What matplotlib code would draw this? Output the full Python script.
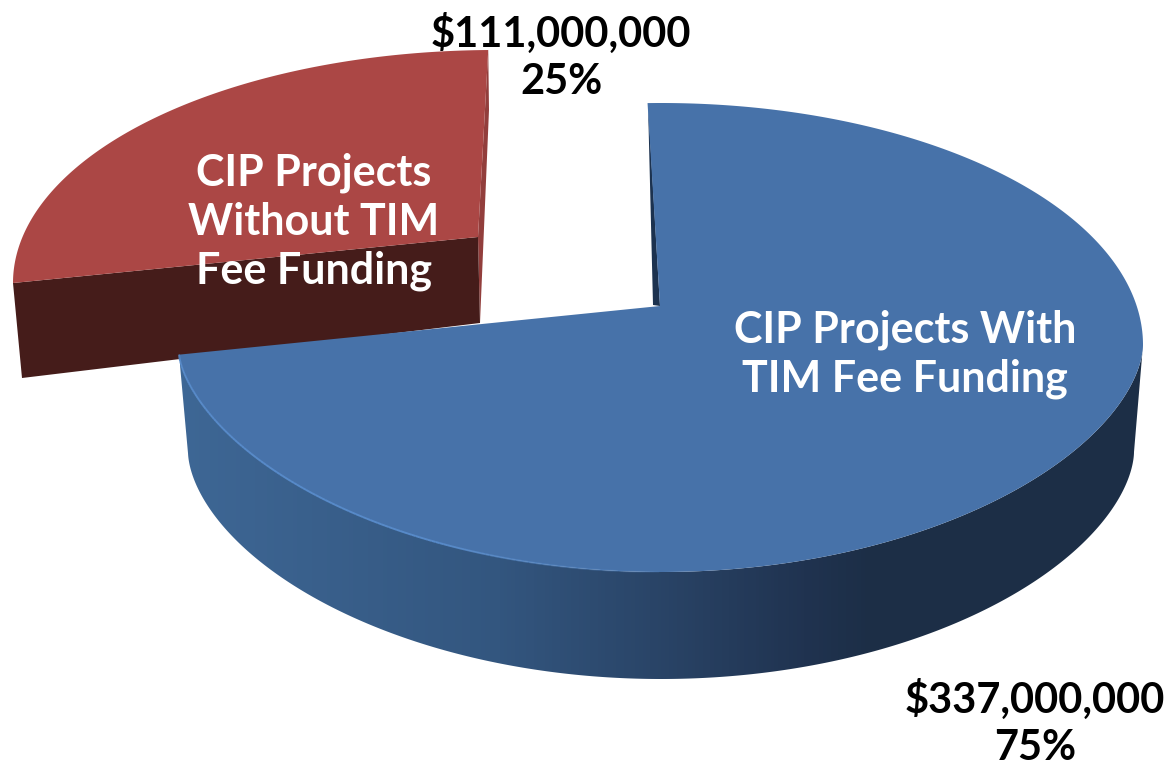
import numpy as np
import matplotlib
matplotlib.use("Agg")
import matplotlib.pyplot as plt
from matplotlib.collections import LineCollection
from matplotlib.colors import LinearSegmentedColormap
from matplotlib.patches import Polygon

# data
slice_names = ["CIP Projects With\nTIM Fee Funding", "CIP Projects\nWithout TIM\nFee Funding"]
amounts = [337000000, 111000000]
amount_labels = ["$337,000,000", "$111,000,000"]
pct_labels = ["75%", "25%"]

plt.rcParams['font.family'] = ['Lato', 'DejaVu Sans']

fig = plt.figure(figsize=(11.69, 7.65), dpi=100)
ax = fig.add_axes([0, 0, 1, 1])

# slice sweeps come from the amounts
sweep = np.array(amounts) / sum(amounts) * 2 * np.pi


def rim(t, cx, cy, rx, ry_up, ry_low):
    c = np.cos(t)
    x = cx + rx * np.sin(t)
    # front half is a bit flatter than a true ellipse
    y = cy - np.where(c > 0, ry_up * c, -ry_low * np.abs(c) ** 1.15)
    return x, y


# red slice, pulled out from the pie
t = np.linspace(np.radians(270), np.radians(270) + sweep[1], 200)
rx, ry = rim(t, 495, 283, 482, 233, 233)
ax.fill(np.r_[rx[-1], 489, 480, 478], np.r_[ry[-1], 110, 323, 237], color="#923e3c", lw=0, zorder=1)
ax.fill([rx[0], 478, 480, 22], [ry[0], 237, 323, 378], color="#451c1a", lw=0, zorder=2)
ax.fill(np.r_[rx, 478], np.r_[ry, 237], color="#ab4745", lw=0, zorder=3)

# blue slice
start = np.radians(-1.6)
end = start + sweep[0]
ax.fill([648, 653, 660], [103, 305, 306], color="#1c324f", lw=0, zorder=3)


def blue_top(t):
    x, y = rim(t, 661, 345, 482, 242, 227)
    # perspective pulls the cut end down a little
    return x, y + 8 * np.exp(-(end - t) / 0.15)


# side wall: horizontal gradient clipped to the wall outline
t = np.linspace(np.radians(90), end, 500)
tx, ty = blue_top(t)
bx, by = rim(t, 661, 452, 473, 242, 227)
side_cmap = LinearSegmentedColormap.from_list("side", [(0, "#3e6795"), (0.33, "#33567f"), (0.49, "#2a4568"), (0.65, "#203350"), (0.72, "#1c2e46"), (1, "#1c2e46")])
wall = Polygon(np.c_[np.r_[tx, bx[::-1]], np.r_[ty, by[::-1]]], transform=ax.transData, fc="none", ec="none")
ax.add_patch(wall)
im = ax.imshow(np.linspace(0, 1, 256).reshape(1, -1), cmap=side_cmap, extent=(180, 1143, 700, 300), aspect="auto", zorder=4)
im.set_clip_path(wall)

t = np.linspace(start, end, 500)
tx, ty = blue_top(t)
ax.fill(np.r_[tx, 660], np.r_[ty, 306], color="#4772a9", lw=0, zorder=5)

# light edge on the front left, fading out towards the middle
keep = (t > np.radians(180)) & (tx < 690)
hx, hy = tx[keep], ty[keep]
segs = [[(hx[i], hy[i]), (hx[i + 1], hy[i + 1])] for i in range(len(hx) - 1)]
fade = np.clip((690 - hx[:-1]) / 250, 0, 1)
ax.add_collection(LineCollection(segs, colors=[(0.34, 0.54, 0.79, a) for a in fade], linewidths=1.4, zorder=6))

# text
ax.text(905, 354, slice_names[0], color="white", fontsize=31, fontweight="bold", ha="center", va="center", linespacing=1.27, zorder=7)
ax.text(314, 222, slice_names[1], color="white", fontsize=31, fontweight="bold", ha="center", va="center", linespacing=1.27, zorder=7)
ax.text(1035, 723, amount_labels[0] + "\n" + pct_labels[0], color="black", fontsize=30, fontweight="bold", ha="center", va="center", linespacing=1.31, zorder=7)
ax.text(561, 57, amount_labels[1] + "\n" + pct_labels[1], color="black", fontsize=30, fontweight="bold", ha="center", va="center", linespacing=1.31, zorder=7)

ax.set_xlim(0, 1169)
ax.set_ylim(765, 0)
ax.axis('off')

plt.savefig("out.png", dpi=100)
